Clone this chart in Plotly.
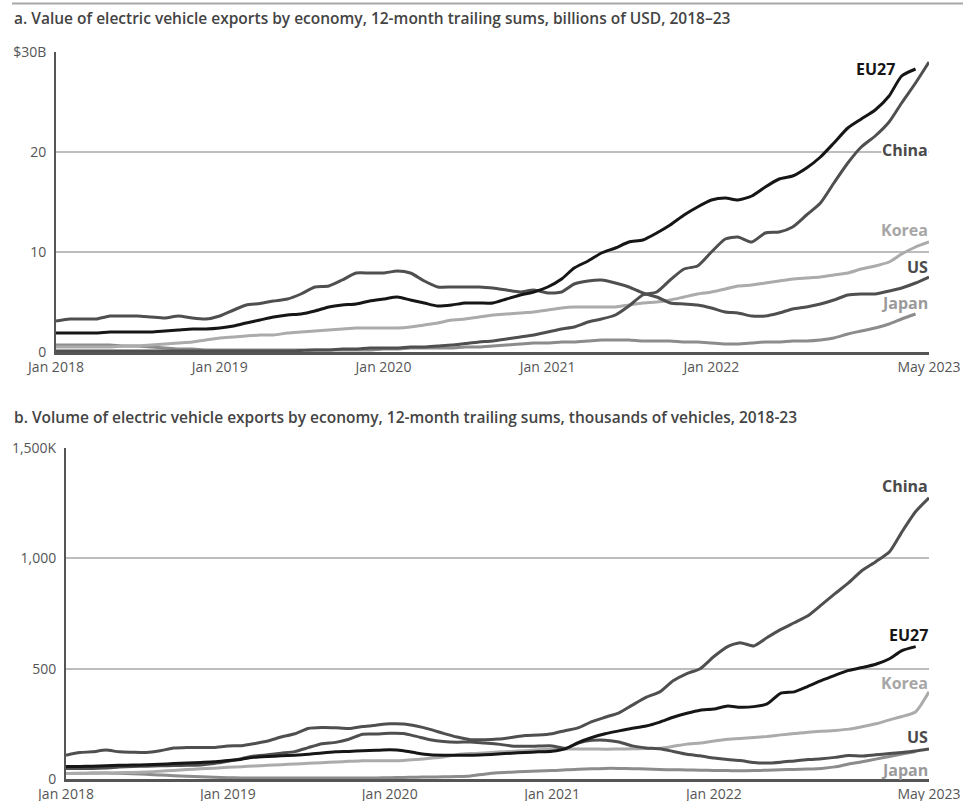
import pandas as pd
import plotly.graph_objects as go

# ---------------- data ----------------
months = pd.date_range("2018-01-01", periods=65, freq="MS").strftime("%Y-%m-%d").tolist()

tick_dates = ["2018-01-01", "2019-01-01", "2020-01-01", "2021-01-01", "2022-01-01", "2023-05-01"]
tick_labels = ["Jan 2018", "Jan 2019", "Jan 2020", "Jan 2021", "Jan 2022", "May 2023"]

# Panel a: value, billions of USD (12-month trailing sums)
value_eu27 = [1.9, 1.9, 1.9, 1.9, 2.0, 2.0, 2.0, 2.0, 2.1, 2.2, 2.3, 2.3,
              2.4, 2.6, 2.9, 3.2, 3.5, 3.7, 3.8, 4.1, 4.5, 4.7, 4.8, 5.1,
              5.3, 5.5, 5.2, 4.9, 4.6, 4.7, 4.9, 4.9, 4.9, 5.3, 5.7, 6.0,
              6.5, 7.3, 8.4, 9.1, 9.9, 10.4, 11.0, 11.2, 11.9, 12.7, 13.7, 14.5,
              15.2, 15.4, 15.2, 15.6, 16.5, 17.3, 17.6, 18.4, 19.5, 20.9, 22.4, 23.3,
              24.2, 25.6, 27.6, 28.3]
value_china = [0.1, 0.1, 0.1, 0.1, 0.1, 0.1, 0.1, 0.1, 0.1, 0.1, 0.1, 0.1,
               0.1, 0.1, 0.1, 0.1, 0.1, 0.1, 0.15, 0.2, 0.2, 0.3, 0.3, 0.4,
               0.4, 0.4, 0.5, 0.5, 0.6, 0.7, 0.85, 1.0, 1.1, 1.3, 1.5, 1.7,
               2.0, 2.3, 2.5, 3.0, 3.3, 3.7, 4.6, 5.7, 6.0, 7.2, 8.3, 8.6,
               10.0, 11.3, 11.5, 11.0, 11.9, 12.0, 12.5, 13.7, 14.9, 16.9, 18.9, 20.5,
               21.6, 23.0, 24.9, 26.9, 29.0]
value_korea = [0.5, 0.5, 0.5, 0.5, 0.5, 0.6, 0.6, 0.7, 0.8, 0.9, 1.0, 1.2,
               1.4, 1.5, 1.6, 1.7, 1.7, 1.9, 2.0, 2.1, 2.2, 2.3, 2.4, 2.4,
               2.4, 2.4, 2.5, 2.7, 2.9, 3.2, 3.3, 3.5, 3.7, 3.8, 3.9, 4.0,
               4.2, 4.4, 4.5, 4.5, 4.5, 4.5, 4.7, 4.9, 5.0, 5.2, 5.5, 5.8,
               6.0, 6.3, 6.6, 6.7, 6.9, 7.1, 7.3, 7.4, 7.5, 7.7, 7.9, 8.3,
               8.6, 9.0, 9.8, 10.5, 11.0]
value_us = [3.1, 3.3, 3.3, 3.3, 3.6, 3.6, 3.6, 3.5, 3.4, 3.6, 3.4, 3.3,
            3.6, 4.2, 4.7, 4.85, 5.1, 5.3, 5.8, 6.5, 6.6, 7.2, 7.9, 7.9,
            7.9, 8.1, 7.9, 7.1, 6.5, 6.5, 6.5, 6.5, 6.4, 6.2, 6.0, 6.2,
            5.9, 6.0, 6.8, 7.1, 7.2, 6.9, 6.5, 5.9, 5.5, 4.9, 4.8, 4.7,
            4.4, 4.0, 3.9, 3.6, 3.6, 3.9, 4.3, 4.5, 4.8, 5.2, 5.7, 5.8,
            5.8, 6.1, 6.4, 6.9, 7.5]
value_japan = [0.7, 0.7, 0.7, 0.7, 0.7, 0.6, 0.6, 0.5, 0.4, 0.3, 0.3, 0.2,
               0.2, 0.2, 0.2, 0.2, 0.2, 0.2, 0.2, 0.2, 0.2, 0.2, 0.2, 0.2,
               0.3, 0.3, 0.4, 0.4, 0.4, 0.4, 0.5, 0.5, 0.6, 0.7, 0.8, 0.9,
               0.9, 1.0, 1.0, 1.1, 1.2, 1.2, 1.2, 1.1, 1.1, 1.1, 1.0, 1.0,
               0.9, 0.8, 0.8, 0.9, 1.0, 1.0, 1.1, 1.1, 1.2, 1.4, 1.8, 2.1,
               2.4, 2.8, 3.3, 3.8]

# Panel b: volume, thousands of vehicles (12-month trailing sums)
volume_china = [108, 120, 123, 131, 123, 121, 120, 128, 140, 143, 143, 143,
                150, 151, 160, 172, 190, 205, 229, 233, 232, 229, 238, 244,
                250, 249, 240, 225, 207, 190, 178, 178, 181, 188, 197, 199,
                205, 220, 232, 260, 280, 300, 335, 370, 395, 445, 478, 500,
                555, 600, 618, 603, 641, 678, 708, 740, 790, 840, 890, 945,
                985, 1030, 1120, 1212, 1274]
volume_eu27 = [57, 57, 58, 60, 62, 63, 65, 67, 70, 72, 75, 78,
               84, 90, 98, 102, 105, 108, 112, 118, 123, 125, 128, 130,
               132, 128, 118, 110, 108, 108, 108, 110, 113, 117, 120, 123,
               126, 138, 165, 188, 205, 218, 230, 240, 258, 280, 298, 312,
               317, 331, 325, 328, 340, 389, 395, 420, 447, 470, 492, 505,
               520, 545, 582, 600]
volume_korea = [25, 25, 26, 27, 28, 30, 32, 35, 39, 43, 46, 49,
                53, 56, 59, 62, 65, 68, 71, 74, 77, 80, 83, 83,
                83, 84, 88, 94, 100, 110, 115, 118, 122, 125, 128, 132,
                135, 136, 136, 136, 135, 136, 137, 138, 139, 148, 158, 163,
                172, 180, 183, 188, 193, 200, 206, 212, 216, 220, 226, 237,
                250, 268, 283, 305, 395]
volume_us = [48, 48, 48, 50, 54, 57, 58, 60, 61, 62, 64, 70,
             80, 92, 104, 110, 117, 124, 142, 160, 166, 180, 203, 204,
             207, 206, 193, 178, 170, 167, 168, 163, 158, 150, 148, 149,
             150, 139, 163, 175, 176, 168, 150, 141, 137, 125, 112, 105,
             95, 88, 84, 75, 72, 76, 82, 88, 92, 98, 106, 104,
             110, 115, 120, 127, 136]
volume_japan = [25, 26, 27, 27, 26, 24, 22, 18, 15, 12, 10, 8,
                6, 5, 5, 5, 5, 5, 5, 5, 5, 5, 5, 5,
                6, 7, 8, 9, 10, 11, 14, 22, 28, 31, 34, 36,
                38, 42, 44, 46, 48, 48, 47, 45, 43, 42, 41, 40,
                39, 38, 37, 38, 40, 42, 43, 45, 48, 55, 68, 78,
                90, 102, 113, 125]

value_ticks = [0, 10, 20, 30]
value_tick_labels = ["0", "10", "20", "$30B"]
volume_ticks = [0, 500, 1000, 1500]
volume_tick_labels = ["0", "500", "1,000", "1,500K"]

# ---------------- styling ----------------
W, H = 964, 801
COL = {"EU27": "#161616", "China": "#4f4f4f", "US": "#4f4f4f", "Korea": "#ababab", "Japan": "#8c8c8c"}
LABEL_COL = {"EU27": "#161616", "China": "#4a4a4a", "US": "#4a4a4a", "Korea": "#a6a6a6", "Japan": "#9a9a9a"}
FONT = "Open Sans"


def px_x(p):
    return p / W


def px_y(p):
    return 1 - p / H


fig = go.Figure()

top = [("Japan", value_japan), ("Korea", value_korea), ("US", value_us),
       ("China", value_china), ("EU27", value_eu27)]
bottom = [("Japan", volume_japan), ("Korea", volume_korea), ("US", volume_us),
          ("China", volume_china), ("EU27", volume_eu27)]

for name, vals in top:
    fig.add_trace(go.Scatter(x=months[:len(vals)], y=vals, mode="lines", name=name,
                             line=dict(color=COL[name], width=3, shape="spline", smoothing=0.6),
                             xaxis="x", yaxis="y", showlegend=False, hoverinfo="skip"))
for name, vals in bottom:
    fig.add_trace(go.Scatter(x=months[:len(vals)], y=vals, mode="lines", name=name,
                             line=dict(color=COL[name], width=3, shape="spline", smoothing=0.6),
                             xaxis="x2", yaxis="y2", showlegend=False, hoverinfo="skip"))

tickfont = dict(family=FONT, size=14, color="#555555")
xcommon = dict(type="date", range=["2018-01-01", "2023-05-01"], tickvals=tick_dates,
               ticktext=tick_labels, showgrid=False, showline=True, linecolor="#555555",
               linewidth=2.5, ticks="", tickfont=tickfont, zeroline=False, fixedrange=True,
               automargin=False, ticklabelstandoff=0)
ycommon = dict(showgrid=True, gridcolor="#bdbdbd", gridwidth=1.5, showline=True,
               linecolor="#555555", linewidth=2, ticks="", tickfont=tickfont,
               zeroline=False, ticklabelstandoff=5, fixedrange=True, automargin=False)

fig.update_layout(
    template="none",
    width=W, height=H,
    margin=dict(l=0, r=0, t=0, b=0, pad=0, autoexpand=False),
    paper_bgcolor="white", plot_bgcolor="white",
    xaxis=dict(domain=[px_x(56), px_x(929)], anchor="y", **xcommon),
    yaxis=dict(domain=[px_y(352), px_y(52)], anchor="x", range=[0, 30],
               tickvals=value_ticks, ticktext=value_tick_labels, **ycommon),
    xaxis2=dict(domain=[px_x(66), px_x(929)], anchor="y2", **xcommon),
    yaxis2=dict(domain=[px_y(779), px_y(448)], anchor="x2", range=[0, 1500],
                tickvals=volume_ticks, ticktext=volume_tick_labels, **ycommon),
)

# separator rule at the very top of the figure
fig.add_shape(type="rect", xref="paper", yref="paper", x0=px_x(12), x1=px_x(963),
              y0=px_y(4.5), y1=px_y(2.5), layer="above",
              fillcolor="#a8a8a8", line=dict(width=0))

titlefont = dict(family=FONT, size=15.5, color="#444444", weight=600)
fig.add_annotation(xref="paper", yref="paper", x=px_x(12), y=px_y(18), xanchor="left",
                   yanchor="middle", showarrow=False, font=titlefont,
                   text="a. Value of electric vehicle exports by economy, 12-month trailing sums, billions of USD, 2018–23")
fig.add_annotation(xref="paper", yref="paper", x=px_x(12), y=px_y(417), xanchor="left",
                   yanchor="middle", showarrow=False, font=titlefont,
                   text="b. Volume of electric vehicle exports by economy, 12-month trailing sums, thousands of vehicles, 2018-23")

labels_top = [("EU27", 896, 69), ("China", 929, 150), ("Korea", 929, 230),
              ("US", 929, 267), ("Japan", 929, 303)]
labels_bottom = [("China", 929, 486), ("EU27", 929, 635), ("Korea", 929, 683),
                 ("US", 929, 737), ("Japan", 929, 770)]
for name, xr, yc in labels_top + labels_bottom:
    extra = {}
    if name == "China" and yc == 150:
        extra = dict(bgcolor="white")
    fig.add_annotation(xref="paper", yref="paper", x=px_x(xr), y=px_y(yc), xanchor="right",
                       yanchor="middle", showarrow=False, text=name, borderpad=0,
                       font=dict(family=FONT, size=16, color=LABEL_COL[name], weight=700), **extra)

fig.write_html("out.html", config={"displayModeBar": False},
               post_script="document.body.style.margin='0px';document.body.style.padding='0px';")
